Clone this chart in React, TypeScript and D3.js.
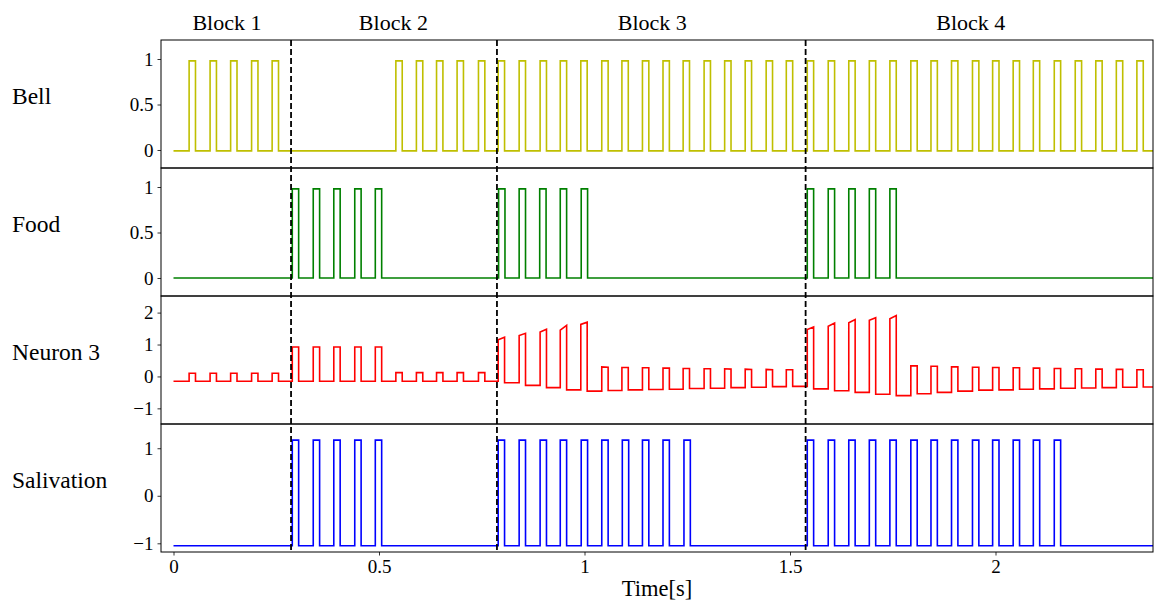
import React, { useEffect, useRef } from "react";
import * as d3 from "d3";

const WIDTH = 1154;
const HEIGHT = 603;

// block labels and boundaries (seconds)
const blockNames = ["Block 1", "Block 2", "Block 3", "Block 4"];
const blockNameX = [0.13, 0.535, 1.165, 1.94];
const blockEdges = [0.286, 0.787, 1.538];

const rowNames = ["Bell", "Food", "Neuron 3", "Salivation"];
const xTicks = [0, 0.5, 1, 1.5, 2];
const bellTicks = [0, 0.5, 1];
const foodTicks = [0, 0.5, 1];
const neuronTicks = [-1, 0, 1, 2];
const salivationTicks = [-1, 0, 1];

const pulseWidth = 0.0155;
const tEnd = 2.4;

// pulse onsets (s)
const bellOnsets = [
  0.038, 0.089, 0.139, 0.19, 0.24,
  0.541, 0.591, 0.64, 0.69, 0.742,
  0.79, 0.841, 0.892, 0.941, 0.991, 1.042, 1.091, 1.141, 1.191, 1.24, 1.291,
  1.341, 1.391, 1.442, 1.491,
  1.542, 1.593, 1.643, 1.693, 1.743, 1.794, 1.843, 1.893, 1.944, 1.993, 2.043,
  2.092, 2.143, 2.194, 2.244, 2.294, 2.344
];
const bellLow = -0.01;
const bellHigh = 0.98;

const foodOnsets = [
  0.289, 0.34, 0.39, 0.441, 0.491,
  0.791, 0.841, 0.891, 0.941, 0.992,
  1.542, 1.593, 1.643, 1.693, 1.743
];
const foodLow = 0.0;
const foodHigh = 0.98;

const salivationOnsets = [
  0.289, 0.34, 0.39, 0.441, 0.491,
  0.79, 0.841, 0.892, 0.941, 0.992, 1.042, 1.092, 1.141, 1.191, 1.242,
  1.542, 1.593, 1.643, 1.693, 1.743, 1.794, 1.843, 1.893, 1.944, 1.993, 2.043,
  2.092, 2.143
];
const salivationLow = -1.05;
const salivationHigh = 1.17;

// neuron 3: onset, baseline before pulse, top at start / end of pulse
const neuronOnsets = [
  0.038, 0.089, 0.139, 0.19, 0.24,
  0.289, 0.34, 0.39, 0.441, 0.491,
  0.541, 0.591, 0.64, 0.69, 0.742,
  0.79, 0.841, 0.892, 0.941, 0.991, 1.042, 1.091, 1.141, 1.191, 1.24, 1.291,
  1.341, 1.391, 1.442, 1.491,
  1.542, 1.593, 1.643, 1.693, 1.743, 1.794, 1.843, 1.893, 1.944, 1.993, 2.043,
  2.092, 2.143, 2.194, 2.244, 2.294, 2.344
];
const neuronBase = [
  -0.15, -0.15, -0.15, -0.15, -0.15,
  -0.15, -0.15, -0.15, -0.15, -0.15,
  -0.15, -0.15, -0.15, -0.15, -0.15,
  -0.15, -0.2, -0.28, -0.35, -0.42, -0.46, -0.44, -0.42, -0.41, -0.4, -0.38,
  -0.37, -0.35, -0.34, -0.32,
  -0.31, -0.39, -0.45, -0.5, -0.56, -0.6, -0.54, -0.5, -0.46, -0.43, -0.42,
  -0.4, -0.39, -0.37, -0.36, -0.35, -0.34
];
const neuronTopStart = [
  0.1, 0.1, 0.1, 0.1, 0.1,
  0.92, 0.92, 0.92, 0.92, 0.92,
  0.12, 0.12, 0.12, 0.12, 0.12,
  1.15, 1.28, 1.39, 1.45, 1.63, 0.3, 0.28, 0.27, 0.26, 0.25, 0.24,
  0.24, 0.23, 0.22, 0.21,
  1.47, 1.57, 1.68, 1.76, 1.81, 0.33, 0.32, 0.3, 0.29, 0.28, 0.27,
  0.26, 0.25, 0.24, 0.23, 0.22, 0.21
];
const neuronTopEnd = [
  0.1, 0.1, 0.1, 0.1, 0.1,
  0.92, 0.92, 0.92, 0.92, 0.92,
  0.12, 0.12, 0.12, 0.12, 0.12,
  1.23, 1.35, 1.48, 1.6, 1.7, 0.29, 0.28, 0.27, 0.26, 0.25, 0.24,
  0.23, 0.22, 0.21, 0.21,
  1.55, 1.67, 1.78, 1.84, 1.91, 0.33, 0.32, 0.3, 0.29, 0.28, 0.27,
  0.26, 0.25, 0.24, 0.23, 0.22, 0.21
];
const neuronEnd = -0.33;

function pulseTrain(onsets: number[], low: number, high: number) {
  const pts: [number, number][] = [[0, low]];
  onsets.forEach((t) => {
    pts.push([t, low], [t, high], [t + pulseWidth, high], [t + pulseWidth, low]);
  });
  pts.push([tEnd, low]);
  return pts;
}

function neuronTrace() {
  const pts: [number, number][] = [[0, neuronBase[0]]];
  neuronOnsets.forEach((t, i) => {
    const after = i + 1 < neuronBase.length ? neuronBase[i + 1] : neuronEnd;
    pts.push(
      [t, neuronBase[i]],
      [t, neuronTopStart[i]],
      [t + pulseWidth, neuronTopEnd[i]],
      [t + pulseWidth, after]
    );
  });
  pts.push([tEnd, neuronEnd]);
  return pts;
}

const fmt = (v: number) => (v < 0 ? "\u2212" + Math.abs(v) : String(v));

export default function App() {
  const ref = useRef<SVGSVGElement>(null);

  useEffect(() => {
    const svg = d3.select(ref.current);
    svg.selectAll("*").remove();

    const left = 161,
      right = 1153,
      top = 40,
      panelH = 128;
    const font = "'Liberation Serif', 'DejaVu Serif', serif";

    const x = d3
      .scaleLinear()
      .domain([(left - 173.5) / 411, (right - 173.5) / 411])
      .range([left, right]);

    const panels = [
      { name: rowNames[0], domain: [-0.198, 1.209], ticks: bellTicks, color: "#bfbf00", data: pulseTrain(bellOnsets, bellLow, bellHigh) },
      { name: rowNames[1], domain: [-0.198, 1.209], ticks: foodTicks, color: "#008000", data: pulseTrain(foodOnsets, foodLow, foodHigh) },
      { name: rowNames[2], domain: [-1.49, 2.52], ticks: neuronTicks, color: "#ff0000", data: neuronTrace() },
      { name: rowNames[3], domain: [-1.183, 1.51], ticks: salivationTicks, color: "#0000ff", data: pulseTrain(salivationOnsets, salivationLow, salivationHigh) }
    ];

    const defs = svg.append("defs");

    panels.forEach((p, i) => {
      const y0 = top + i * panelH;
      const y = d3.scaleLinear().domain(p.domain).range([y0 + panelH, y0]);

      defs
        .append("clipPath")
        .attr("id", "clip" + i)
        .append("rect")
        .attr("x", left)
        .attr("y", y0)
        .attr("width", right - left)
        .attr("height", panelH);

      const line = d3
        .line<[number, number]>()
        .x((d) => x(d[0]))
        .y((d) => y(d[1]));

      svg
        .append("path")
        .attr("clip-path", "url(#clip" + i + ")")
        .attr("d", line(p.data))
        .attr("fill", "none")
        .attr("stroke", p.color)
        .attr("stroke-width", 1.6)
        .attr("stroke-linejoin", "miter");

      const ax = svg
        .append("g")
        .attr("transform", "translate(" + left + ",0)")
        .call(d3.axisLeft(y).tickValues(p.ticks).tickFormat(fmt as any).tickSize(3.5).tickPadding(4));
      ax.select(".domain").remove();
      ax.selectAll("line").attr("stroke", "#000").attr("stroke-width", 0.8);
      ax.selectAll("text").style("font-family", font).style("font-size", "19px").attr("fill", "#000");

      svg
        .append("rect")
        .attr("x", left)
        .attr("y", y0)
        .attr("width", right - left)
        .attr("height", panelH)
        .attr("fill", "none")
        .attr("stroke", "#000")
        .attr("stroke-width", 1);

      svg
        .append("text")
        .attr("x", 12)
        .attr("y", y0 + panelH / 2 - 5)
        .attr("dominant-baseline", "middle")
        .style("font-family", font)
        .style("font-size", "23.5px")
        .text(p.name);
    });

    const bottom = top + panelH * panels.length;

    const xa = svg
      .append("g")
      .attr("transform", "translate(0," + bottom + ")")
      .call(d3.axisBottom(x).tickValues(xTicks).tickFormat(fmt as any).tickSize(3.5).tickPadding(4));
    xa.select(".domain").remove();
    xa.selectAll("line").attr("stroke", "#000").attr("stroke-width", 0.8);
    xa.selectAll("text").style("font-family", font).style("font-size", "19px").attr("fill", "#000");

    svg
      .selectAll(".edge")
      .data(blockEdges)
      .enter()
      .append("line")
      .attr("class", "edge")
      .attr("x1", (d) => x(d))
      .attr("x2", (d) => x(d))
      .attr("y1", top)
      .attr("y2", bottom)
      .attr("stroke", "#000")
      .attr("stroke-width", 1.8)
      .attr("stroke-dasharray", "6,3");

    svg
      .selectAll(".block")
      .data(blockNames)
      .enter()
      .append("text")
      .attr("class", "block")
      .attr("x", (d, i) => x(blockNameX[i]))
      .attr("y", 25)
      .attr("text-anchor", "middle")
      .attr("dominant-baseline", "middle")
      .style("font-family", font)
      .style("font-size", "22px")
      .text((d) => d);

    svg
      .append("text")
      .attr("x", (left + right) / 2)
      .attr("y", 591)
      .attr("text-anchor", "middle")
      .attr("dominant-baseline", "middle")
      .style("font-family", font)
      .style("font-size", "22.5px")
      .text("Time[s]");
  }, []);

  return (
    <svg
      ref={ref}
      width={WIDTH}
      height={HEIGHT}
      style={{ position: "absolute", left: 0, top: 0, background: "#fff" }}
    />
  );
}
